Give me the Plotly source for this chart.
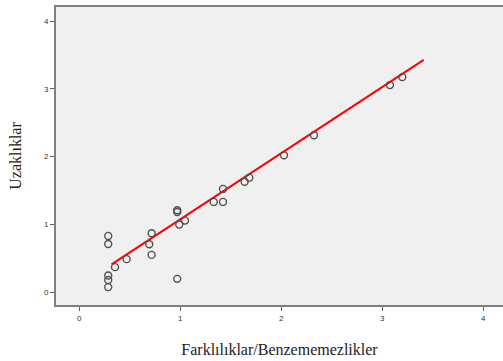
import plotly.graph_objects as go

# Disparities (x) vs. distances (y)
disparities = [0.287, 0.287, 0.287, 0.287, 0.287, 0.354, 0.469, 0.717, 0.693, 0.717,
               0.970, 0.970, 0.970, 0.990, 1.047, 1.331, 1.423, 1.423, 1.637, 1.683,
               2.027, 2.324, 3.076, 3.198]
distances = [0.830, 0.710, 0.245, 0.180, 0.074, 0.369, 0.487, 0.870, 0.708, 0.550,
             1.210, 1.184, 0.196, 0.997, 1.056, 1.332, 1.524, 1.332, 1.630, 1.690,
             2.020, 2.316, 3.057, 3.175]

# Linear fit line end points
fit_x = [0.32, 3.41]
fit_y = [0.41, 3.43]

tick_vals = [0, 1, 2, 3, 4]
tick_text = ["0", "1", "2", "3", "4"]

fig = go.Figure()
fig.add_trace(go.Scatter(
    x=fit_x, y=fit_y, mode="lines",
    line=dict(color="#ff0000", width=2),
    hoverinfo="skip", showlegend=False,
))
fig.add_trace(go.Scatter(
    x=disparities, y=distances, mode="markers",
    marker=dict(symbol="circle-open", size=7, color="#505050", line=dict(width=1.4, color="#505050")),
    showlegend=False,
))

axis_common = dict(
    showgrid=False, zeroline=False,
    showline=True, linecolor="#808080", linewidth=2,
    ticks="outside", ticklen=4, tickwidth=1, tickcolor="#606060",
    tickvals=tick_vals, ticktext=tick_text,
    tickfont=dict(family="Liberation Sans, Arial, sans-serif", size=8, color="#333333"),
)

title_font = dict(family="Liberation Serif, Times New Roman, serif", size=16, color="#222222")

fig.update_layout(
    width=503, height=361,
    margin=dict(l=56, r=0, t=7, b=56),
    paper_bgcolor="#ffffff",
    plot_bgcolor="#f0f0f0",
    xaxis=dict(
        range=[-0.23, 4.195], mirror=True,
        title=dict(text="Farklılıklar/Benzememezlikler", standoff=22, font=title_font),
        **axis_common,
    ),
    yaxis=dict(
        range=[-0.19, 4.21],
        title=dict(text="Uzaklıklar", standoff=18, font=title_font),
        **axis_common,
    ),
)

fig.write_html("out.html")
